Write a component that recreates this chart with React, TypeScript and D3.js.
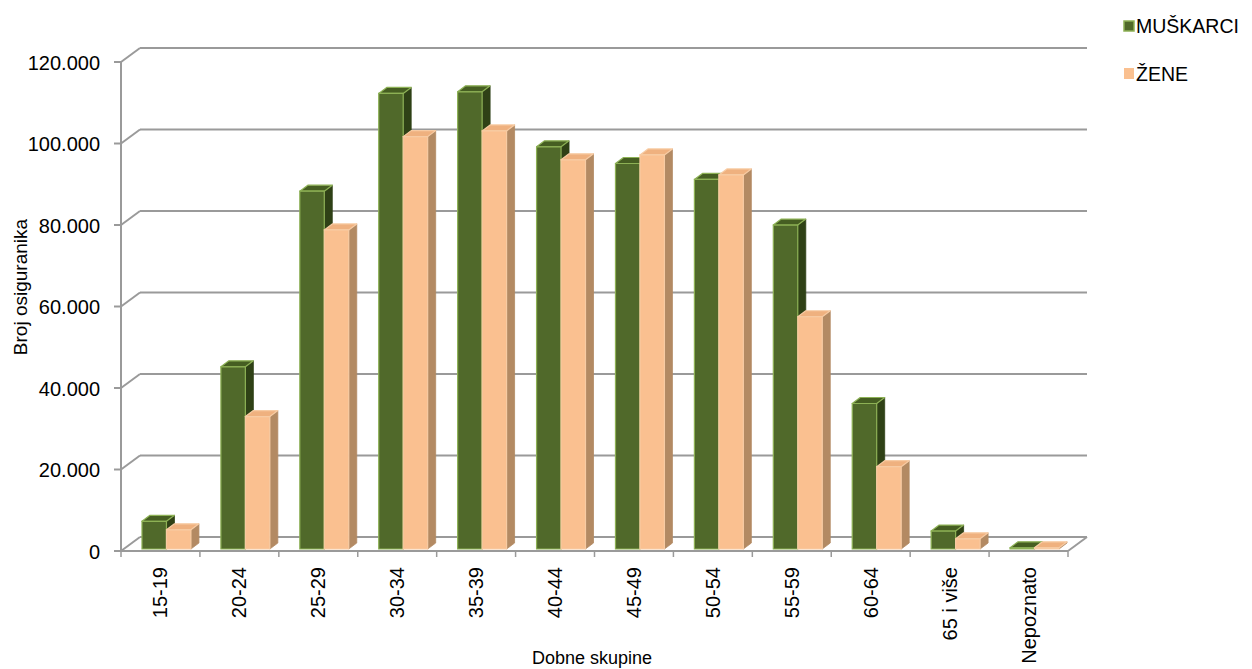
import React from "react";
import * as d3 from "d3";

const categories = ["15-19", "20-24", "25-29", "30-34", "35-39", "40-44", "45-49", "50-54", "55-59", "60-64", "65 i više", "Nepoznato"];
const muskarci = [6800, 44700, 87800, 111800, 112200, 98700, 94600, 90700, 79500, 35700, 4400, 300];
const zene = [4700, 32500, 78300, 101200, 102600, 95500, 96700, 91800, 57000, 20200, 2500, 300];
const yTicks = [0, 20000, 40000, 60000, 80000, 100000, 120000];
const seriesNames = ["MUŠKARCI", "ŽENE"];

const W = 1252, H = 669;
const FONT = "'Liberation Sans', Arial, sans-serif";
const DX = 19, DY = -14; // wall depth
const BDX = 8, BDY = -6; // bar depth
const GRID = "#9a9a9a";

const fmt = d3.formatLocale({ decimal: ",", thousands: ".", grouping: [3], currency: ["", ""] }).format(",");

const colors = {
  M: { front: "#50692a", side: "#2f4116", top: "#465e22", stroke: "#8db155" },
  Z: { front: "#fac090", side: "#b38a63", top: "#efb17f", stroke: "#f7cba3" },
};

export default function App() {
  const x = d3.scaleBand<string>().domain(categories).range([121, 1068]).paddingInner(0).paddingOuter(0);
  const y = d3.scaleLinear().domain([0, 120000]).range([551, 62]);
  const bw = x.bandwidth();
  const inner = d3.scaleBand<string>().domain(["M", "Z"]).range([(21 / 79) * bw, (70 / 79) * bw]).padding(0);
  const barW = inner.bandwidth();
  const baseShiftY = -2;

  const x0 = x.range()[0], x1 = x.range()[1];

  const bar = (key: "M" | "Z", cat: string, v: number) => {
    const c = colors[key];
    const xl = (x(cat) as number) + (inner(key) as number);
    const xr = xl + barW;
    const yb = y(0) + baseShiftY;
    const yt = y(v) + baseShiftY;
    const front = `M${xl},${yb}L${xr},${yb}L${xr},${yt}L${xl},${yt}Z`;
    const top = `M${xl},${yt}L${xr},${yt}L${xr + BDX},${yt + BDY}L${xl + BDX},${yt + BDY}Z`;
    const side = `M${xr},${yb}L${xr + BDX},${yb + BDY}L${xr + BDX},${yt + BDY}L${xr},${yt}Z`;
    return (
      <g key={key + cat}>
        <path d={side} fill={c.side} stroke={c.side} strokeWidth={0.8} strokeLinejoin="round" />
        <path d={top} fill={c.top} stroke={c.stroke} strokeWidth={1.2} strokeLinejoin="round" />
        <path d={front} fill={c.front} stroke={c.stroke} strokeWidth={1.2} />
      </g>
    );
  };

  return (
    <svg width={W} height={H} style={{ display: "block", position: "absolute", left: 0, top: 0 }} fontFamily={FONT}>
      <rect width={W} height={H} fill="#fff" />
      {yTicks.map((t) => (
        <g key={t}>
          <line x1={x0 + DX} x2={x1 + DX} y1={y(t) + DY} y2={y(t) + DY} stroke={GRID} strokeWidth={2} />
          <line x1={x0} x2={x0 + DX} y1={y(t)} y2={y(t) + DY} stroke={GRID} strokeWidth={2} />
          <line x1={x0 - 7} x2={x0} y1={y(t)} y2={y(t)} stroke={GRID} strokeWidth={2} />
          <text x={100} y={y(t) + 7.5} textAnchor="end" fontSize={20} fill="#000">{fmt(t)}</text>
        </g>
      ))}
      <line x1={x0} x2={x1} y1={y(0)} y2={y(0)} stroke={GRID} strokeWidth={2} />
      <line x1={x1} x2={x1 + DX} y1={y(0)} y2={y(0) + DY} stroke={GRID} strokeWidth={2} />
      <line x1={x0} x2={x0} y1={y(120000)} y2={y(0)} stroke={GRID} strokeWidth={2} />
      {[...categories.map((c) => x(c) as number), x1].map((px, i) => (
        <line key={i} x1={px} x2={px} y1={y(0)} y2={y(0) + 6} stroke={GRID} strokeWidth={1.5} />
      ))}
      {categories.map((c, i) => (
        <g key={c}>
          {bar("M", c, muskarci[i])}
          {bar("Z", c, zene[i])}
        </g>
      ))}
      {categories.map((c) => {
        const cx = (x(c) as number) + bw / 2 + 7;
        return (
          <text key={c} transform={`translate(${cx},567) rotate(-90)`} textAnchor="end" fontSize={20} fill="#000">{c}</text>
        );
      })}
      <text x={592} y={664} textAnchor="middle" fontSize={18} fill="#000">Dobne skupine</text>
      <text transform={`translate(27,287) rotate(-90)`} textAnchor="middle" fontSize={19} fill="#000">Broj osiguranika</text>
      <rect x={1124} y={21} width={10} height={10} fill={colors.M.front} stroke={colors.M.stroke} strokeWidth={1.5} />
      <text x={1136} y={33} fontSize={19.5} fill="#000">{seriesNames[0]}</text>
      <rect x={1124} y={68} width={10} height={11} fill={colors.Z.front} />
      <text x={1136} y={81} fontSize={19.5} fill="#000">{seriesNames[1]}</text>
    </svg>
  );
}
